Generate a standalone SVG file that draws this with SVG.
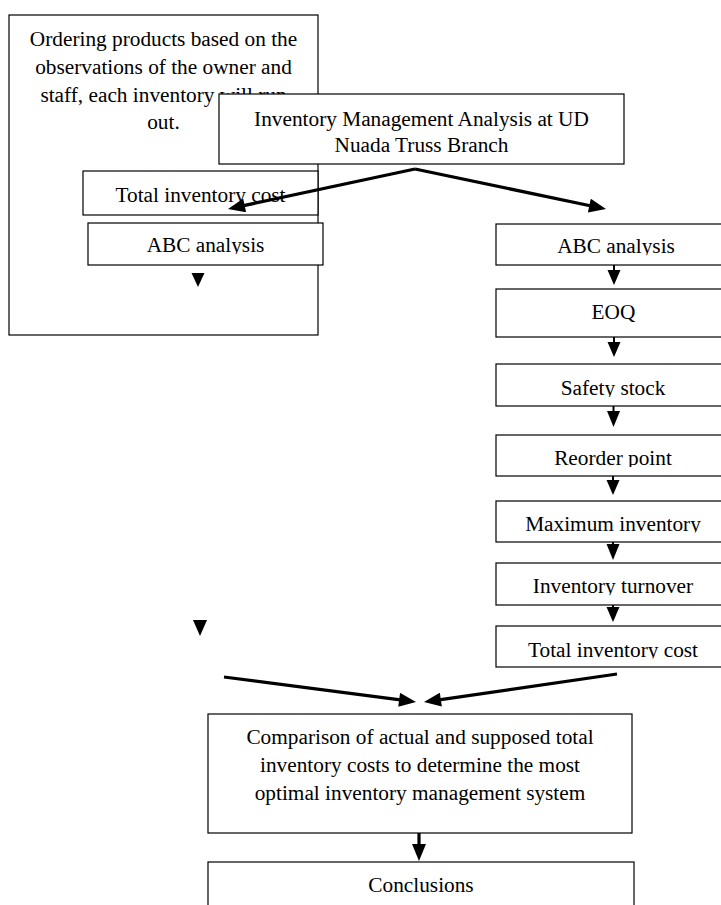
<svg xmlns="http://www.w3.org/2000/svg" width="721" height="905" viewBox="0 0 721 905">
<style>
  .box { fill: #fff; stroke: #000; stroke-width: 1.2; }
  .t { font-family: "Liberation Serif", "Times New Roman", serif; font-size: 21.3px; fill: #000; text-anchor: middle; }
  .cut { clip-path: url(#descCut); }
  .line { stroke: #000; stroke-width: 3.2; fill: none; }
  .stem { stroke: #000; stroke-width: 2; fill: none; }
  .head { fill: #000; stroke: none; }
</style>
<defs>
  <clipPath id="descCut" clipPathUnits="objectBoundingBox">
    <rect x="-0.1" y="0" width="1.2" height="0.87"/>
  </clipPath>
  <marker id="bigHead" markerUnits="userSpaceOnUse" markerWidth="18" markerHeight="14" viewBox="0 0 17 14" refX="7" refY="7" orient="auto">
    <path d="M0,0 L17,7 L0,14 z" fill="#000"/>
  </marker>
</defs>

<g id="node-current-method">
  <rect class="box" x="9" y="15" width="309" height="320"/>
  <text class="t" x="163.5" y="46.3">Ordering products based on the</text>
  <text class="t" x="163.5" y="74">observations of the owner and</text>
  <text class="t" x="163.5" y="101.7">staff, each inventory will run</text>
  <text class="t" x="163.5" y="128.5">out.</text>
</g>
<g id="node-left-total-cost">
  <rect class="box" x="83" y="171" width="235" height="44"/>
  <text class="t cut" x="200.5" y="201.7">Total inventory cost</text>
</g>
<g id="node-left-abc">
  <rect class="box" x="88" y="223" width="235" height="42"/>
  <text class="t cut" x="205.5" y="252">ABC analysis</text>
</g>
<g id="node-main">
  <rect class="box" x="219" y="94" width="405" height="70"/>
  <text class="t" x="421.5" y="125.7">Inventory Management Analysis at UD</text>
  <text class="t" x="421.5" y="151.7">Nuada Truss Branch</text>
</g>
<g id="node-right-abc">
  <rect class="box" x="496" y="224" width="240" height="41"/>
  <text class="t cut" x="616" y="253.3">ABC analysis</text>
</g>
<g id="node-eoq">
  <rect class="box" x="496" y="289" width="240" height="48"/>
  <text class="t" x="613.5" y="319">EOQ</text>
</g>
<g id="node-safety-stock">
  <rect class="box" x="496" y="364" width="240" height="42"/>
  <text class="t cut" x="613" y="395">Safety stock</text>
</g>
<g id="node-reorder-point">
  <rect class="box" x="496" y="435" width="240" height="41"/>
  <text class="t cut" x="613" y="465">Reorder point</text>
</g>
<g id="node-maximum-inventory">
  <rect class="box" x="496" y="501" width="240" height="41"/>
  <text class="t cut" x="613" y="530.5">Maximum inventory</text>
</g>
<g id="node-inventory-turnover">
  <rect class="box" x="496" y="563" width="240" height="42"/>
  <text class="t cut" x="613" y="593.3">Inventory turnover</text>
</g>
<g id="node-right-total-cost">
  <rect class="box" x="496" y="626" width="240" height="41"/>
  <text class="t cut" x="613" y="656.5">Total inventory cost</text>
</g>
<g id="node-comparison">
  <rect class="box" x="208" y="714" width="424" height="119"/>
  <text class="t" x="420" y="744">Comparison of actual and supposed total</text>
  <text class="t" x="420" y="772">inventory costs to determine the most</text>
  <text class="t" x="420" y="800">optimal inventory management system</text>
</g>
<g id="node-conclusions">
  <rect class="box" x="208" y="862" width="426" height="60"/>
  <text class="t" x="421" y="892">Conclusions</text>
</g>

<g id="connectors">
  <line class="line" x1="415" y1="169" x2="237.8" y2="206.9" marker-end="url(#bigHead)"/>
  <line class="line" x1="415" y1="169" x2="596.2" y2="207" marker-end="url(#bigHead)"/>
  <line class="line" x1="224" y1="677" x2="406.1" y2="700.7" marker-end="url(#bigHead)"/>
  <line class="line" x1="617" y1="674" x2="433.9" y2="700.6" marker-end="url(#bigHead)"/>
  <line class="line" x1="419" y1="833" x2="419" y2="851" marker-end="url(#bigHead)"/>

  <polygon class="head" points="191.5,273 204.5,273 198,287"/>
  <polygon class="head" points="193,620 207,620 200,636"/>

  <line class="stem" x1="614" y1="265" x2="614" y2="272"/>
  <polygon class="head" points="607.5,270 620.5,270 614,285"/>
  <line class="stem" x1="614" y1="337" x2="614" y2="344"/>
  <polygon class="head" points="607.5,342 620.5,342 614,357"/>
  <line class="stem" x1="613.5" y1="406" x2="613.5" y2="413"/>
  <polygon class="head" points="607,411 620,411 613.5,427"/>
  <line class="stem" x1="613" y1="476" x2="613" y2="482"/>
  <polygon class="head" points="606.5,480 619.5,480 613,495"/>
  <line class="stem" x1="613" y1="542" x2="613" y2="546"/>
  <polygon class="head" points="606.5,544 619.5,544 613,560"/>
  <line class="stem" x1="613" y1="605" x2="613" y2="609"/>
  <polygon class="head" points="606.5,607 619.5,607 613,622"/>
</g>
</svg>
